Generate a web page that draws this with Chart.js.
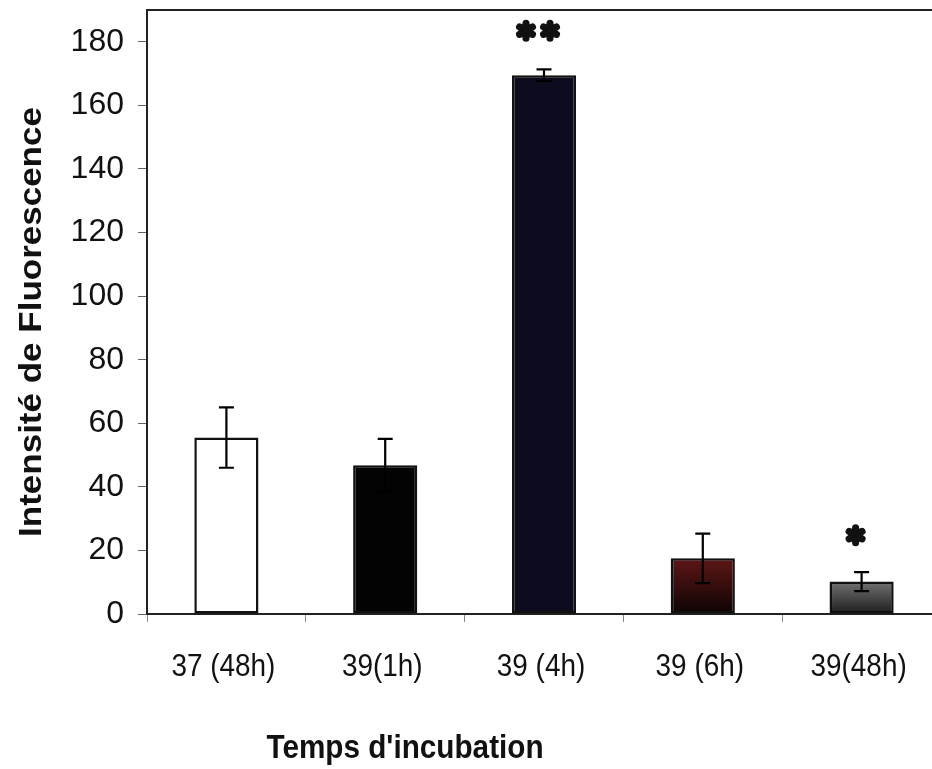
<!DOCTYPE html>
<html>
<head>
<meta charset="utf-8">
<script src="https://cdn.jsdelivr.net/npm/chart.js@4.4.1/dist/chart.umd.min.js"></script>
<style>
  html, body { margin: 0; padding: 0; background: #fff; overflow: hidden; }
  #wrap { width: 946px; height: 769px; }
</style>
</head>
<body>
<div id="wrap"><canvas id="chart"></canvas></div>
<script>
// data
var categories = ['37 (48h)', '39(1h)', '39 (4h)', '39 (6h)', '39(48h)'];
var values = [55.5, 46.8, 169.5, 17.5, 10.2];
var errors = [9.5, 8.3, 1.8, 7.8, 3.0];
var stars = ['', '', '**', '', '*'];
var starLevels = [null, null, 183.5, null, 24.8];
var yTicks = [0, 20, 40, 60, 80, 100, 120, 140, 160, 180];
var xTitle = "Temps d'incubation";
var yTitle = 'Intensité de Fluorescence';

var sans = "'Liberation Sans', Arial, Helvetica, sans-serif";

// fill for each bar, gradients built from the bar's own top/bottom pixels
function barFill(ctx) {
    var i = ctx.dataIndex;
    var chart = ctx.chart;
    if (!chart.chartArea) return '#000';
    var y = chart.scales.y;
    var top = y.getPixelForValue(values[i]), bottom = y.getPixelForValue(0);
    var g;
    switch (i) {
        case 0: return '#ffffff';
        case 1: return '#030303';
        case 2: return '#0c0c1e';
        case 3:
            g = chart.ctx.createLinearGradient(0, top, 0, bottom);
            g.addColorStop(0, '#5e1616');
            g.addColorStop(1, '#0d0404');
            return g;
        case 4:
            g = chart.ctx.createLinearGradient(0, top, 0, bottom);
            g.addColorStop(0, '#727272');
            g.addColorStop(1, '#1c1c1c');
            return g;
    }
}

function drawStar(c, x, y, r) {
    c.save();
    c.translate(x, y);
    c.fillStyle = '#111';
    for (var k = 0; k < 6; k++) {
        c.save();
        c.rotate(Math.PI / 2 + k * Math.PI / 3);
        c.beginPath();
        c.moveTo(0, 0);
        c.quadraticCurveTo(r * 0.4, r * 0.42, r * 0.68, r * 0.32);
        c.arc(r * 0.68, 0, r * 0.32, Math.PI / 2, -Math.PI / 2, true);
        c.quadraticCurveTo(r * 0.4, -r * 0.42, 0, 0);
        c.fill();
        c.restore();
    }
    c.beginPath();
    c.arc(0, 0, r * 0.25, 0, Math.PI * 2);
    c.fill();
    c.restore();
}

// the figure uses a condensed face, so squeeze Liberation Sans horizontally
function narrowText(c, text, x, y, font, sx) {
    c.save();
    c.font = font;
    c.textAlign = 'center';
    c.textBaseline = 'middle';
    c.translate(x, y);
    c.scale(sx, 1);
    c.fillText(text, 0, 0);
    c.restore();
}

var extras = {
    id: 'extras',
    afterDatasetsDraw: function (chart) {
        var c = chart.ctx, y = chart.scales.y, area = chart.chartArea;
        var bars = chart.getDatasetMeta(0).data;
        // error bars
        c.save();
        c.strokeStyle = '#000';
        c.lineWidth = 2.2;
        bars.forEach(function (b, i) {
            var hi = y.getPixelForValue(values[i] + errors[i]);
            var lo = y.getPixelForValue(values[i] - errors[i]);
            c.beginPath();
            c.moveTo(b.x, hi); c.lineTo(b.x, lo);
            c.moveTo(b.x - 7.5, hi); c.lineTo(b.x + 7.5, hi);
            c.moveTo(b.x - 7.5, lo); c.lineTo(b.x + 7.5, lo);
            c.stroke();
        });
        c.restore();
        // significance stars
        bars.forEach(function (b, i) {
            if (!stars[i]) return;
            var py = y.getPixelForValue(starLevels[i]);
            for (var k = 0; k < stars[i].length; k++) {
                drawStar(c, b.x - 6 - (stars[i].length - 1) * 12 + k * 24, py, 11);
            }
        });
        // frame top line
        c.save();
        c.strokeStyle = '#222';
        c.lineWidth = 2;
        c.beginPath();
        c.moveTo(area.left, area.top);
        c.lineTo(area.right, area.top);
        c.lineTo(area.right, area.bottom);
        c.stroke();
        c.restore();
        // category labels and titles
        c.fillStyle = '#111';
        bars.forEach(function (b, i) {
            narrowText(c, categories[i], b.x - 3, 667, '31px ' + sans, 0.9);
        });
        narrowText(c, xTitle, 405, 749, 'bold 33px ' + sans, 0.9);
        c.save();
        c.translate(32, 322);
        c.rotate(-Math.PI / 2);
        c.font = 'bold 35px ' + sans;
        c.textAlign = 'center';
        c.textBaseline = 'middle';
        c.scale(1, 0.92);
        c.fillText(yTitle, 0, 0);
        c.restore();
    }
};

new Chart(document.getElementById('chart'), {
    type: 'bar',
    data: {
        labels: categories,
        datasets: [{
            data: values,
            backgroundColor: barFill,
            borderColor: '#111',
            borderWidth: 2.5,
            borderSkipped: false,
            barPercentage: 0.8,
            categoryPercentage: 0.505
        }]
    },
    options: {
        responsive: true,
        maintainAspectRatio: false,
        animation: false,
        events: [],
        layout: { padding: { top: 10, right: 5, left: 0, bottom: 0 } },
        plugins: { legend: { display: false }, tooltip: { enabled: false } },
        scales: {
            x: {
                grid: { display: true, drawOnChartArea: false, offset: true, tickLength: 8, color: '#888', lineWidth: 1 },
                border: { display: true, color: '#222', width: 2 },
                ticks: { display: false },
                afterFit: function (s) { s.height = 155; s.paddingLeft = 0; s.paddingRight = 0; }
            },
            y: {
                min: 0,
                max: 190,
                afterBuildTicks: function (s) { s.ticks = yTicks.map(function (v) { return { value: v }; }); },
                grid: { display: true, drawOnChartArea: false, tickLength: 9, color: '#666', lineWidth: 1 },
                border: { display: true, color: '#222', width: 2 },
                ticks: { color: '#111', font: { family: sans, size: 32 }, padding: 14 },
                afterFit: function (s) { s.width = 147; s.paddingTop = 0; s.paddingBottom = 0; }
            }
        }
    },
    plugins: [extras]
});
</script>
</body>
</html>
